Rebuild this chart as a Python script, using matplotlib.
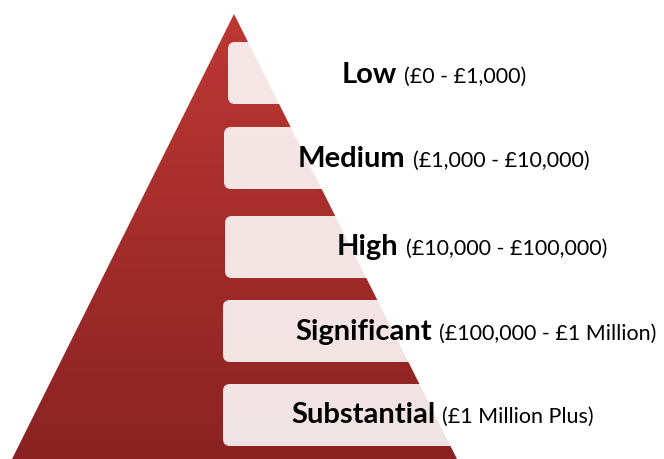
import numpy as np
import matplotlib.pyplot as plt
from matplotlib.patches import Polygon, FancyBboxPatch
from matplotlib.colors import LinearSegmentedColormap

levels = ['Low', 'Medium', 'High', 'Significant', 'Substantial']
ranges = ['(£0 - £1,000)', '(£1,000 - £10,000)', '(£10,000 - £100,000)',
          '(£100,000 - £1 Million)', '(£1 Million Plus)']

# layout in pixel units (y grows downwards)
box_top = [42, 127, 216, 300, 384]
box_left = [228, 224, 225, 223, 223]
box_h = 62
label_x = [342, 298, 337, 295, 291]
baseline = [83, 167, 255, 340, 423]

W, H = 664, 459
fig = plt.figure(figsize=(W / 100, H / 100), dpi=100)
ax = fig.add_axes([0, 0, 1, 1])
ax.set_xlim(0, W)
ax.set_ylim(H, 0)
ax.axis('off')

# pyramid with vertical gradient
apex = (234, 14)
tri = Polygon([apex, (12, 459), (457, 459)], closed=True, fc='none', ec='none')
ax.add_patch(tri)
cmap = LinearSegmentedColormap.from_list('red', ['#bd3834', '#8a2222'])
grad = np.linspace(0, 1, 256).reshape(-1, 1)
img = ax.imshow(grad, cmap=cmap, extent=[12, 457, 459, 14], aspect='auto', zorder=1)
img.set_clip_path(tri)

for i in range(len(levels)):
    box = FancyBboxPatch((box_left[i], box_top[i]), 640 - box_left[i], box_h,
                         boxstyle='round,pad=0,rounding_size=7',
                         fc='white', ec='none', alpha=0.88, zorder=2)
    ax.add_patch(box)

fig.canvas.draw()
r = fig.canvas.get_renderer()
for i in range(len(levels)):
    t = ax.text(label_x[i], baseline[i], levels[i], fontsize=21, fontweight='bold',
                family='Lato', va='baseline', ha='left', color='black', zorder=3)
    bb = t.get_window_extent(renderer=r)
    x_end = ax.transData.inverted().transform((bb.x1, bb.y0))[0]
    ax.text(x_end + 7, baseline[i], ranges[i], fontsize=15.5, family='Lato',
            va='baseline', ha='left', color='black', zorder=3)

fig.savefig('out.png', dpi=100)
